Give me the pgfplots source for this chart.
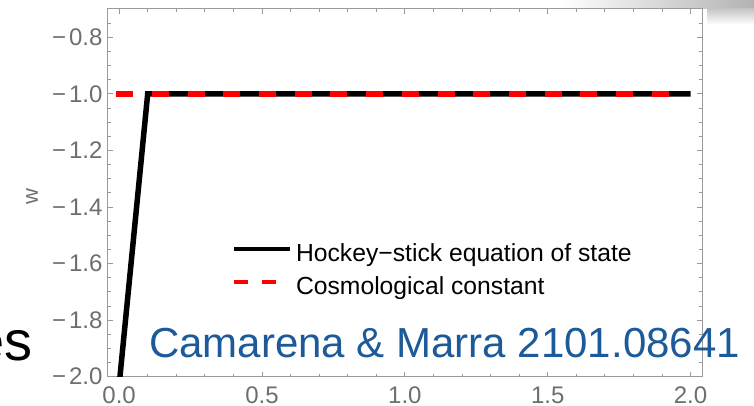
\documentclass[border=0pt]{standalone}
\usepackage{pgfplots}
\pgfplotsset{compat=1.18}
\usepackage{fontspec}
\setmainfont{Liberation Sans}
\definecolor{tickgray}{HTML}{6E6E6E}
\definecolor{framegray}{HTML}{9A9A9A}
\definecolor{citeblue}{HTML}{1C5A99}
\newcommand{\mn}{−\kern3bp}
\begin{document}
\begin{tikzpicture}
\shade[left color=white, right color=black!30] (452.3bp,367.7bp) rectangle (646.3bp,376.7bp);
\shade[top color=black!22, bottom color=white] (600bp,352bp) rectangle (646.3bp,367.7bp);
\begin{axis}[
  scale only axis, width=594.3bp, height=367.7bp,
  xmin=-0.04, xmax=2.04, ymin=-2.0, ymax=-0.7,
  axis line style={framegray, line width=1bp},
  tick align=inside, xtick pos=both, ytick pos=both,
  xticklabel pos=lower, yticklabel pos=left,
  major tick length=5bp, minor tick length=3bp,
  every tick/.style={framegray, line width=0.8bp},
  xtick={0,0.5,1,1.5,2}, xticklabels={0.0,0.5,1.0,1.5,2.0},
  ytick={-2,-1.8,-1.6,-1.4,-1.2,-1,-0.8},
  yticklabels={\mn2.0,\mn1.8,\mn1.6,\mn1.4,\mn1.2,\mn1.0,\mn0.8},
  minor xtick={0.1,0.2,0.3,0.4,0.6,0.7,0.8,0.9,1.1,1.2,1.3,1.4,1.6,1.7,1.8,1.9},
  minor ytick={-1.95,-1.9,-1.85,-1.75,-1.7,-1.65,-1.55,-1.5,-1.45,-1.35,-1.3,-1.25,-1.15,-1.1,-1.05,-0.95,-0.9,-0.85,-0.75},
  xticklabel style={font=\fontsize{24bp}{28bp}\selectfont, text=tickgray, inner sep=0pt, yshift=-10bp},
  yticklabel style={font=\fontsize{24bp}{28bp}\selectfont, text=tickgray, inner sep=0pt, xshift=-5bp},
  ylabel={w},
  ylabel style={at={(axis description cs:-0.1274,0.49)}, anchor=center, inner sep=0pt, text=tickgray, font=\fontsize{22bp}{26bp}\selectfont},
  legend cell align=left,
  legend style={at={(0.2092,0.361)}, anchor=north west, draw=none, fill=none,
    inner sep=0pt, outer sep=0pt, row sep=10bp,
    nodes={inner sep=0pt, text height=18bp, text depth=5bp, font=\fontsize{24.7bp}{28bp}\selectfont},
    /tikz/every odd column/.append style={column sep=4bp}},
]
\addplot[black, line width=5.5bp,
  legend image code/.code={\draw[black, solid, line width=4bp] (0bp,6.5bp) -- (56bp,6.5bp);}]
  coordinates {(0.0,-2.03) (0.1,-1.0) (2.0,-1.0)};
\addlegendentry{Hockey−stick equation of state}
\addplot[red, line width=5.5bp, dash pattern=on 17bp off 18.7bp,
  legend image code/.code={\draw[red, line width=4bp, dash pattern=on 14bp off 14bp] (0bp,6.5bp) -- (42bp,6.5bp);}]
  coordinates {(-0.01,-1.0) (1.985,-1.0)};
\addlegendentry{Cosmological constant}
\end{axis}
\node[anchor=base west, inner sep=0pt, text=citeblue, font=\fontsize{42bp}{48bp}\selectfont] at (41.3bp,19.7bp) {Camarena \& Marra 2101.08641};
\node[anchor=base east, inner sep=0pt, font=\fontsize{56bp}{60bp}\selectfont] at (-74.7bp,16.7bp) {es};
\pgfresetboundingbox
\path[use as bounding box] (-107.7bp,-29.3bp) rectangle (646.3bp,376.7bp);
\end{tikzpicture}
\end{document}
